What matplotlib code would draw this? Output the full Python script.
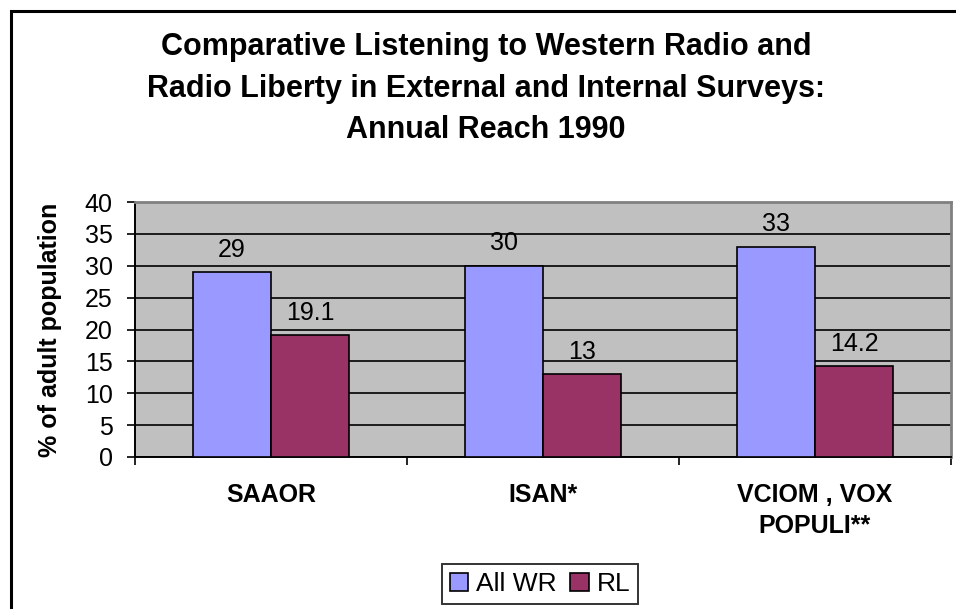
import matplotlib
matplotlib.use("Agg")
import matplotlib.pyplot as plt
from matplotlib.patches import Rectangle
import numpy as np

plt.rcParams['font.family'] = ['Liberation Sans', 'DejaVu Sans']

categories = ["SAAOR", "ISAN*", "VCIOM , VOX\nPOPULI**"]
series_names = ["All WR", "RL"]
all_wr = [29, 30, 33]
rl = [19.1, 13, 14.2]
value_labels_wr = ["29", "30", "33"]
value_labels_rl = ["19.1", "13", "14.2"]
yticks = [0, 5, 10, 15, 20, 25, 30, 35, 40]
title = ("Comparative Listening to Western Radio and\n"
         "Radio Liberty in External and Internal Surveys:\n"
         "Annual Reach 1990")
ylabel = "% of adult population"

W, H = 956, 609
fig = plt.figure(figsize=(W / 100, H / 100), dpi=100)
fig.patch.set_facecolor("white")

ax = fig.add_axes([135 / W, 1 - 457 / H, (951 - 135) / W, (457 - 202) / H])
ax.set_facecolor("#C0C0C0")

x = np.arange(len(categories)) + 0.5
bw = 78 / 272
b1 = ax.bar(x - bw / 2, all_wr, width=bw, color="#9999FF", edgecolor="black",
            linewidth=1.2, zorder=3, label=series_names[0])
b2 = ax.bar(x + bw / 2, rl, width=bw, color="#993366", edgecolor="black",
            linewidth=1.2, zorder=3, label=series_names[1])

for rects, labs in ((b1, value_labels_wr), (b2, value_labels_rl)):
    for r, lab in zip(rects, labs):
        ax.annotate(lab, (r.get_x() + r.get_width() / 2, r.get_height()),
                    xytext=(0, 11), textcoords="offset points",
                    ha="center", va="baseline", fontsize=18, color="black",
                    zorder=4)

ax.set_xlim(0, len(categories))
ax.set_ylim(0, 40)
ax.set_yticks(yticks)
ax.set_yticklabels([str(v) for v in yticks])
ax.yaxis.grid(True, color="black", linewidth=1.2, zorder=1)
ax.set_axisbelow(True)

ax.set_xticks(np.arange(len(categories) + 1))
ax.set_xticklabels([])
ax.set_xticks(x, minor=True)
ax.set_xticklabels(categories, minor=True, fontsize=18, fontweight="bold",
                   linespacing=1.35)
ax.tick_params(axis="x", which="major", direction="out", length=6,
               width=1.2, color="black")
ax.tick_params(axis="x", which="minor", length=0, pad=19)
ax.tick_params(axis="y", direction="out", length=6, width=1.2, pad=10,
               labelsize=18)

for s in ("left", "bottom"):
    ax.spines[s].set_color("black")
    ax.spines[s].set_linewidth(1.4)
for s in ("top", "right"):
    ax.spines[s].set_color("#808080")
    ax.spines[s].set_linewidth(2)

fig.text(486 / W, 1 - 89 / H, title, ha="center", va="center",
         fontsize=22, fontweight="bold", linespacing=1.5)
fig.text(50 / W, 1 - 329.5 / H, ylabel, rotation=90, ha="center",
         va="center", fontsize=18, fontweight="bold")

leg = fig.legend(handles=[b1, b2], labels=series_names,
                 loc="center", bbox_to_anchor=(540 / W, 1 - 584 / H),
                 ncol=2, fontsize=19, frameon=True, fancybox=False,
                 handlelength=0.7, handleheight=0.7, handletextpad=0.3,
                 columnspacing=0.5, borderpad=0.3, borderaxespad=0)
leg.get_frame().set_edgecolor("black")
leg.get_frame().set_linewidth(1.4)

fig.patches.append(Rectangle((11 / W, -0.1), 1.2, 1.1 - 11 / H + 0.0,
                             transform=fig.transFigure, fill=False,
                             edgecolor="black", linewidth=2.2))

fig.savefig("out.png", dpi=100)
